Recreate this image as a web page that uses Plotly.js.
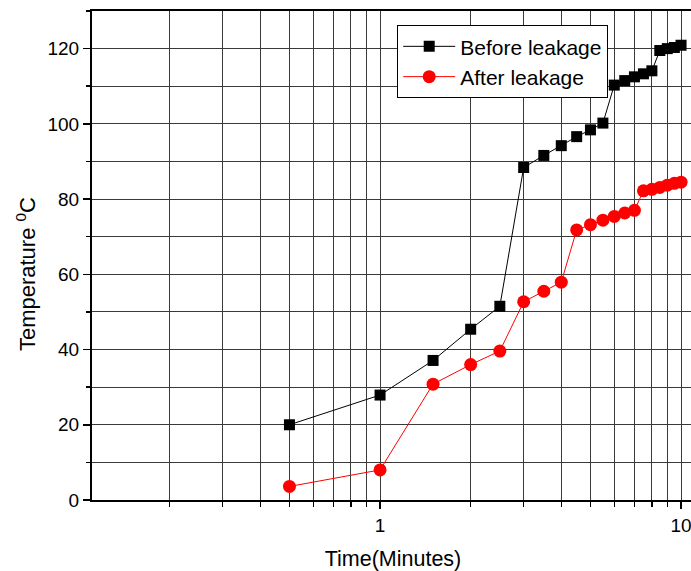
<!DOCTYPE html>
<html>
<head>
<meta charset="utf-8">
<script src="https://cdn.plot.ly/plotly-3.0.1.min.js"></script>
<style>
  html, body { margin: 0; padding: 0; overflow: hidden; background: #fff; }
  #chart { width: 700px; height: 571px; }
</style>
</head>
<body>
<div id="chart"></div>
<script>
// Time in minutes (log scale)
const timeMin = [0.5, 1, 1.5, 2, 2.5, 3, 3.5, 4, 4.5, 5, 5.5, 6, 6.5, 7, 7.5, 8, 8.5, 9, 9.5, 10];

// Temperature readings (deg C)
const beforeLeakage = [20.0, 27.9, 37.1, 45.4, 51.5, 88.4, 91.6, 94.2, 96.6, 98.4, 100.2,
                       110.3, 111.5, 112.5, 113.3, 114.1, 119.5, 120.0, 120.3, 120.9];
const afterLeakage  = [3.6, 8.0, 30.8, 36.0, 39.6, 52.7, 55.5, 57.9, 71.8, 73.2, 74.4,
                       75.4, 76.3, 77.0, 82.2, 82.6, 83.1, 83.7, 84.2, 84.5];

const seriesNames = ['Before leakage', 'After leakage'];

// Axis ticks
const xMajorTicks = [1, 10];
const xMajorText = ['1', '10'];
const xMinorTicks = [0.2, 0.3, 0.4, 0.5, 0.6, 0.7, 0.8, 0.9, 2, 3, 4, 5, 6, 7, 8, 9];

const font = 'Liberation Sans, Arial, sans-serif';
const gridCol = '#3a3a3a';

const traces = [
  {
    x: timeMin, y: beforeLeakage, name: seriesNames[0],
    type: 'scatter', mode: 'lines+markers',
    line: { color: '#000000', width: 1 },
    marker: { symbol: 'square', size: 11, color: '#000000' }
  },
  {
    x: timeMin, y: afterLeakage, name: seriesNames[1],
    type: 'scatter', mode: 'lines+markers',
    line: { color: '#ff0000', width: 1 },
    marker: { symbol: 'circle', size: 13, color: '#ff0000' }
  }
];

const layout = {
  width: 700, height: 571,
  margin: { l: 92, r: 6, t: 11, b: 71 },
  paper_bgcolor: '#ffffff', plot_bgcolor: '#ffffff',
  font: { family: font, size: 19, color: '#000' },
  showlegend: true,
  legend: {
    x: 0.507, y: 0.971, xanchor: 'left', yanchor: 'top',
    bgcolor: '#ffffff', bordercolor: '#000000', borderwidth: 1,
    font: { family: font, size: 21, color: '#000' },
    itemwidth: 52,
    tracegroupgap: 0
  },
  xaxis: {
    type: 'log',
    range: [-0.957, 1.043],
    tickmode: 'array', tickvals: xMajorTicks, ticktext: xMajorText,
    ticks: 'outside', ticklen: 7, tickwidth: 1.5, tickcolor: '#000',
    showgrid: true, gridcolor: gridCol, gridwidth: 1,
    showline: true, linecolor: '#000', linewidth: 2, mirror: true,
    zeroline: false,
    tickfont: { family: font, size: 19 },
    minor: {
      tickmode: 'array', tickvals: xMinorTicks,
      ticks: 'outside', ticklen: 5, tickcolor: '#000', tickwidth: 1.5,
      showgrid: true, gridcolor: gridCol, gridwidth: 1
    },
    title: { text: 'Time(Minutes)', font: { family: font, size: 21.5 }, standoff: 19 }
  },
  yaxis: {
    range: [0, 130],
    tickmode: 'linear', tick0: 0, dtick: 20,
    ticks: 'outside', ticklen: 7, tickwidth: 1.5, tickcolor: '#000',
    showgrid: true, gridcolor: gridCol, gridwidth: 1,
    showline: true, linecolor: '#000', linewidth: 2, mirror: true,
    zeroline: false,
    tickfont: { family: font, size: 19 },
    minor: {
      tick0: 0, dtick: 10,
      ticks: 'outside', ticklen: 4, tickcolor: '#000', tickwidth: 1.5,
      showgrid: true, gridcolor: gridCol, gridwidth: 1
    }
  },
  // y-axis title, set slightly below the plot's vertical centre
  annotations: [{
    text: 'Temperature <sup>0</sup>C',
    xref: 'paper', yref: 'paper', x: 0, y: 0.462,
    xanchor: 'center', yanchor: 'middle', xshift: -66,
    textangle: -90, showarrow: false,
    font: { family: font, size: 22, color: '#000' }
  }]
};

Plotly.newPlot('chart', traces, layout, { displayModeBar: false, staticPlot: true });
</script>
</body>
</html>
